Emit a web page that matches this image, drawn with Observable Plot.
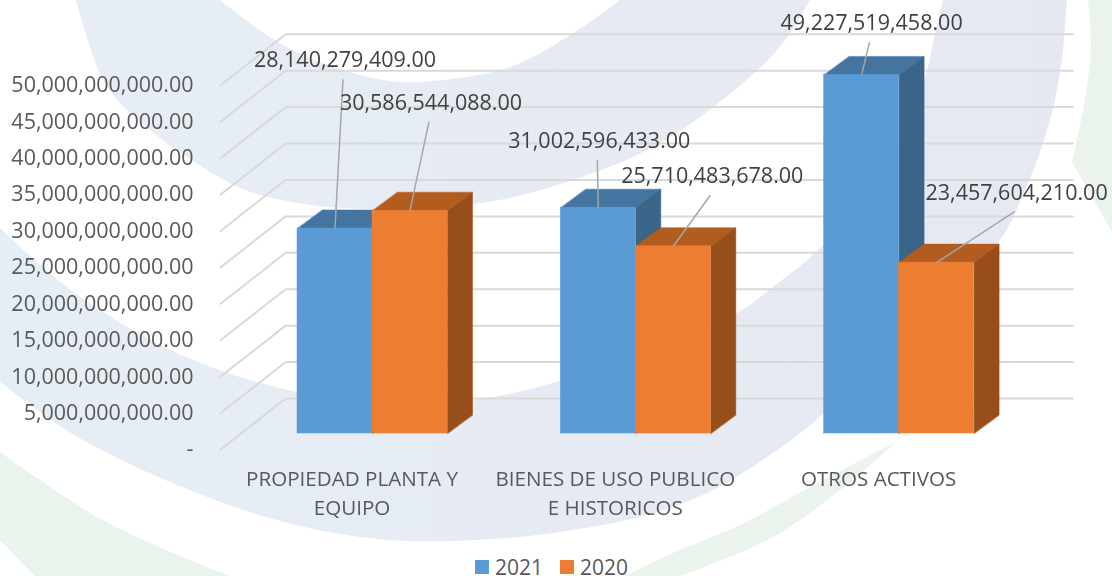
<!DOCTYPE html>
<html><head><meta charset="utf-8">
<script src="https://cdn.jsdelivr.net/npm/d3@7"></script>
<script src="https://cdn.jsdelivr.net/npm/@observablehq/plot@0.6"></script>
<style>
html,body{margin:0;padding:0;background:#fff;width:1112px;height:576px;overflow:hidden;position:relative;font-family:"Open Sans",sans-serif}
#bg{position:absolute;left:0;top:0;filter:blur(0.6px)}
#chart{position:absolute;left:0;top:0;filter:blur(0.4px)}
#chart svg{background:transparent;display:block}
.lg{position:absolute;top:558px;font-size:21px;line-height:18px;color:#595959}
.sw{position:absolute;top:560px;width:14px;height:14px}
</style></head><body>
<svg id="bg" width="1112" height="576"></svg>
<div id="chart"></div>
<div class="sw" style="left:475px;background:#5b9bd5"></div><div class="lg" style="left:495px">2021</div>
<div class="sw" style="left:560px;background:#ed7d31"></div><div class="lg" style="left:580px">2020</div>
<script>
// ---- data ----
const categories = ["PROPIEDAD PLANTA Y\nEQUIPO", "BIENES DE USO PUBLICO\nE HISTORICOS", "OTROS ACTIVOS"];
const values2021 = [28140279409, 31002596433, 49227519458];
const values2020 = [30586544088, 25710483678, 23457604210];
const yTicks = [0, 5e9, 10e9, 15e9, 20e9, 25e9, 30e9, 35e9, 40e9, 45e9, 50e9];

// ---- layout (category units on x, value units on y) ----
const unitPx = 263.3, valPx = 7.285e-9;
const barW = 75 / unitPx, depthX = 25 / unitPx, depthV = 18.5 / valPx;
const wallV = 35 / valPx, frontV = -16 / valPx;
const floorLeft = -0.577, wallLeft = -0.33, wallRight = 2.66;
const fmt = d3.format(",.2f");
const font = '"Open Sans",sans-serif';
// label layout in px: offset of label from bar-top centre
const labelOffsets = {
  "2021": [[10, -168], [1, -67], [10, -52]],
  "2020": [[21, -108], [39, -70], [80, -70]]
};
const series = [
  {name: "2021", values: values2021, front: "#5b9bd5", top: "#4474a0", side: "#3a6488", off: -barW / 2},
  {name: "2020", values: values2020, front: "#ed7d31", top: "#b35c1f", side: "#984e1b", off: barW / 2}
];

const marks = [];
// wall + floor grid
const gridPts = yTicks.flatMap(t => [
  {t, x: floorLeft, y: t + frontV},
  {t, x: wallLeft, y: t + wallV},
  {t, x: wallRight, y: t + wallV}
]);
marks.push(Plot.line(gridPts, {x: "x", y: "y", z: "t", stroke: "#d9d9d9", strokeWidth: 2}));

// bars: painter's order, category by category
function face(pts, fill) {
  return Plot.line(pts, {x: "x", y: "y", fill, stroke: fill, strokeWidth: 0.5, curve: "linear-closed"});
}
categories.forEach((c, i) => {
  series.forEach(s => {
    const v = s.values[i], l = i + s.off - barW / 2, r = i + s.off + barW / 2;
    marks.push(face([{x: l, y: v}, {x: r, y: v}, {x: r + depthX, y: v + depthV}, {x: l + depthX, y: v + depthV}], s.top));
    marks.push(face([{x: r, y: 0}, {x: r, y: v}, {x: r + depthX, y: v + depthV}, {x: r + depthX, y: depthV}], s.side));
    marks.push(Plot.rect([{l, r, v}], {x1: "l", x2: "r", y1: 0, y2: "v", fill: s.front, stroke: s.front, strokeWidth: 0.5}));
  });
});

// leader lines and value labels
series.forEach(s => s.values.forEach((v, i) => {
  const [dx, dy] = labelOffsets[s.name][i];
  const cx = i + s.off;
  marks.push(Plot.link([{}], {
    x1: () => cx, y1: () => v,
    x2: () => cx + (dx - 2) / unitPx, y2: () => v - (dy + 19) / valPx,
    stroke: "#a6a6a6", strokeWidth: 1.5
  }));
  marks.push(Plot.text([v], {
    x: () => cx, y: d => d, dx, dy, text: d => fmt(d),
    fill: "#404040", fontSize: 21.5, fontFamily: font, textAnchor: "middle", lineAnchor: "middle"
  }));
}));

// category labels
marks.push(Plot.text(categories, {
  x: (d, i) => i, y: () => 0, dx: -20.5, dy: 32, text: d => d,
  fill: "#595959", fontSize: 20.6, fontFamily: font, lineAnchor: "top", lineHeight: 1.4, textAnchor: "middle"
}));

// value axis, aligned with the front edge of the floor
marks.push(Plot.axisY(yTicks, {
  anchor: "left", label: null, tickSize: 0, tickPadding: 0, dy: 16,
  tickFormat: d => d === 0 ? "-" : fmt(d),
  fill: "#595959", fontSize: 21.5, fontFamily: font
}));

const chart = Plot.plot({
  width: 1112, height: 552,
  marginLeft: 193, marginRight: 0, marginTop: 0, marginBottom: 0,
  x: {type: "linear", axis: null, domain: [(193 - 372) / unitPx, (1112 - 372) / unitPx]},
  y: {type: "linear", axis: null, domain: [0, 50e9], range: [433, 433 - 50e9 * valPx]},
  style: {background: "transparent", overflow: "visible"},
  marks
});
document.getElementById("chart").appendChild(chart);

// ---- decorative watermark behind the chart ----
const svg = d3.select("#bg");
const grad = svg.append("defs").append("linearGradient").attr("id", "wm").attr("gradientUnits", "userSpaceOnUse")
  .attr("x1", 0).attr("x2", 1112).attr("y1", 0).attr("y2", 0);
grad.append("stop").attr("offset", 0).attr("stop-color", "#e6eef5");
grad.append("stop").attr("offset", 1).attr("stop-color", "#e6e8f1");
const curve = d3.line().curve(d3.curveCatmullRom.alpha(0.5));
const arc = a => curve(a).replace(/^M[\d.,\-]+/, "");
const crescent = (a, b) => curve(a) + "L" + b[b.length - 1].join(",") + arc(b.slice().reverse()) + "Z";
const upperOuter = [[76,0],[106,85],[149,129],[199,165],[248,191],[319,206],[372,209],[440,207],[500,200],[567,182],[633,157],[680,131],[717,104],[750,77],[783,43],[810,0]];
const upperInner = [[220,0],[270,37],[319,62],[390,81],[443,80],[500,70],[533,57],[573,33],[593,20],[620,0]];
const lowerOuter = [[0,382],[71,433],[177,485],[284,522],[390,540],[507,538],[573,530],[640,517],[707,493],[773,453],[823,414],[910,328],[1000,240],[1025,190],[1043,143],[1055,100],[1063,50],[1067,0]];
const lowerInner = [[0,228],[71,290],[177,353],[284,389],[390,404],[473,400],[553,383],[650,348],[737,313],[773,287],[823,245],[885,165],[925,77],[933,43],[943,0]];
[crescent(upperOuter, upperInner), crescent(lowerOuter, lowerInner)]
  .forEach(d => svg.append("path").attr("d", d).attr("fill", "url(#wm)"));
const greens = [
  crescent([[1088,0],[1091,50],[1083,110],[1072,162]], [[1112,0],[1112,232]]).replace("Z", "L1088,0Z"),
  crescent([[0,452],[106,522],[230,576]], [[0,540],[35,576]]),
  crescent([[896,442],[823,480],[740,525],[673,553],[625,576]], [[896,442],[840,490],[773,537],[680,576]])
];
greens.forEach(d => svg.append("path").attr("d", d).attr("fill", "#eaf3ec"));
</script>
</body></html>
